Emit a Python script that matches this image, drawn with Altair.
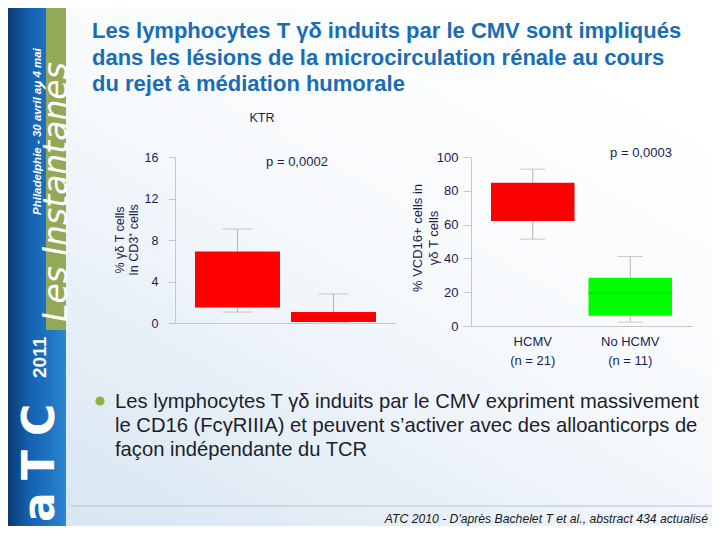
import json
import altair as alt
import pandas as pd

# ---------------- data / text ----------------
TITLE_LINES = [
    "Les lymphocytes T γδ  induits par le CMV sont impliqués",
    "dans les lésions de la microcirculation rénale au cours",
    "du rejet à médiation humorale",
]
BULLET_LINES = [
    "Les lymphocytes T γδ induits par le CMV expriment massivement",
    "le CD16 (FcγRIIIA) et peuvent s’activer avec des alloanticorps de",
    "façon indépendante du TCR",
]
FOOTER = "ATC 2010 - D'après Bachelet T et al., abstract 434 actualisé"
BANNER_DATES = "Philadelphie - 30 avril au 4 mai"
BANNER_NAME = "Les Instantanés"
LOGO_LETTERS = ["a", "T", "C"]
LOGO_YEAR = "2011"

GROUPS = ["HCMV", "No HCMV"]
GROUP_N = ["(n = 21)", "(n = 11)"]

LEFT_LABEL = "KTR"
LEFT_P = "p = 0,0002"
LEFT_YTITLE = ["% γδ T cells", "In CD3⁺ cells"]
LEFT_TICKS = [0, 4, 8, 12, 16]
LEFT_LOW = [1.05, 0.0]
LEFT_Q1 = [1.5, 0.1]
LEFT_MED = [3.2, 0.4]
LEFT_Q3 = [6.9, 1.05]
LEFT_HIGH = [9.05, 2.8]

RIGHT_P = "p = 0,0003"
RIGHT_YTITLE = ["% VCD16+ cells in", "γδ T cells"]
RIGHT_TICKS = [0, 20, 40, 60, 80, 100]
RIGHT_LOW = [51.4, 2.3]
RIGHT_Q1 = [62.1, 6.1]
RIGHT_MED = [74.5, 19.4]
RIGHT_Q3 = [84.7, 28.6]
RIGHT_HIGH = [92.8, 41.1]

W, H = 704, 518
FONT = "Liberation Sans"
NAVY = "#1c1c50"
one = pd.DataFrame({"k": [0]})


def panel(low, q1, med, q3, high, box_colors, med_colors, ydomain, yticks,
          yrange, xrange, pin, pout, cap, yaxis_x, xaxis_y, show_labels,
          label_size, tick_size, label_pad):
    df = pd.DataFrame({"group": GROUPS, "low": low, "q1": q1, "med": med,
                       "q3": q3, "high": high})
    xs = alt.Scale(domain=GROUPS, range=xrange, paddingInner=pin, paddingOuter=pout)
    ys = alt.Scale(domain=ydomain, range=yrange, nice=False, zero=False)
    box_c = alt.Color("group:N", scale=alt.Scale(domain=GROUPS, range=box_colors), legend=None)
    med_c = alt.Color("group:N", scale=alt.Scale(domain=GROUPS, range=med_colors), legend=None)

    expr = "''"
    for g, n in reversed(list(zip(GROUPS, GROUP_N))):
        expr = f"datum.value === {json.dumps(g)} ? {json.dumps([g, n])} : {expr}"

    xaxis = alt.Axis(orient="bottom", offset=-(H - xaxis_y), title=None,
                     ticks=False, labels=show_labels,
                     labelExpr=expr, labelLineHeight=19, labelPadding=9,
                     labelFontSize=13, labelColor=NAVY, labelFont=FONT,
                     labelOverlap=False, labelAngle=0, zindex=1,
                     domainColor="#c8c8c8", domainWidth=1)
    yaxis = alt.Axis(orient="left", offset=-yaxis_x, title=None, values=yticks,
                     grid=False, tickSize=tick_size, tickColor="#c8c8c8",
                     domainColor="#c8c8c8", labelPadding=label_pad, zindex=1,
                     labelFontSize=label_size, labelColor=NAVY, labelFont=FONT)

    base = alt.Chart(df)
    whisk = base.mark_rule(color="#b4b4b4", strokeWidth=1).encode(
        x=alt.X("group:N", scale=xs, axis=xaxis),
        y=alt.Y("low:Q", scale=ys, axis=yaxis), y2="high:Q")
    cap_lo = base.mark_tick(color="#b4b4b4", thickness=1, size=cap).encode(
        x=alt.X("group:N", scale=xs, axis=None), y=alt.Y("low:Q", scale=ys, axis=None))
    cap_hi = base.mark_tick(color="#b4b4b4", thickness=1, size=cap).encode(
        x=alt.X("group:N", scale=xs, axis=None), y=alt.Y("high:Q", scale=ys, axis=None))
    box = base.mark_bar(opacity=1).encode(
        x=alt.X("group:N", scale=xs, axis=None),
        y=alt.Y("q1:Q", scale=ys, axis=None), y2="q3:Q", color=box_c)
    medl = base.mark_tick(thickness=1, size=84, opacity=0.35).encode(
        x=alt.X("group:N", scale=xs, axis=None), y=alt.Y("med:Q", scale=ys, axis=None),
        color=med_c)
    return [whisk, cap_lo, cap_hi, box, medl]


left = panel(LEFT_LOW, LEFT_Q1, LEFT_MED, LEFT_Q3, LEFT_HIGH,
             ["#ff0000", "#ff0000"], ["#a00000", "#a00000"], [0, 16], LEFT_TICKS,
             [315, 149], [167, 388], 0.1146, 0.208, 30, 167, 315, False, 12.5, 7, 10)
right = panel(RIGHT_LOW, RIGHT_Q1, RIGHT_MED, RIGHT_Q3, RIGHT_HIGH,
              ["#ff0000", "#00ff00"], ["#a00000", "#008000"], [0, 100], RIGHT_TICKS,
              [318, 149], [463, 684], 0.1436, 0.205, 25, 463, 318, True, 13, 8, 5)

# ---------------- decoration ----------------
bg = alt.Chart(one).mark_rect(color=alt.Gradient(
    gradient="linear",
    stops=[alt.GradientStop(color="#ffffff", offset=0),
           alt.GradientStop(color="#f6f9fc", offset=0.45),
           alt.GradientStop(color="#d9e7f3", offset=1)],
    x1=0.85, y1=0.1, x2=0.15, y2=1)).encode(
    x=alt.value(0), x2=alt.value(W), y=alt.value(0), y2=alt.value(H))

banner = alt.Chart(one).mark_rect(color=alt.Gradient(
    gradient="linear",
    stops=[alt.GradientStop(color="#0a3a72", offset=0),
           alt.GradientStop(color="#1460ae", offset=0.35),
           alt.GradientStop(color="#1f74c2", offset=0.7),
           alt.GradientStop(color="#2c86d2", offset=1)],
    x1=0, y1=0, x2=1, y2=0)).encode(
    x=alt.value(0), x2=alt.value(58), y=alt.value(0), y2=alt.value(H))

green = alt.Chart(one).mark_rect(color="#93a957").encode(
    x=alt.value(38), x2=alt.value(58), y=alt.value(0), y2=alt.value(322))


def txt(text, x, y, **kw):
    return alt.Chart(one).mark_text(**kw).encode(
        x=alt.value(x), y=alt.value(y), text=alt.value(text))


dates = txt(BANNER_DATES, 30, 207, angle=270, align="left", baseline="middle",
            font=FONT, fontSize=11.5, fontWeight="bold", fontStyle="italic", color="white")
name = txt(BANNER_NAME, 59, 314, angle=270, align="left", baseline="alphabetic",
           font="DejaVu Sans", fontSize=33, fontStyle="italic", fontWeight=300, color="white")
year = txt(LOGO_YEAR, 38, 370, angle=270, align="left", baseline="alphabetic",
           font=FONT, fontSize=19, fontWeight="bold", color="white")
logo_a = txt(LOGO_LETTERS[0], 46, 514, angle=270, align="left", baseline="alphabetic",
             font="DejaVu Sans", fontSize=44, fontWeight="bold", color="white")
logo_t = txt(LOGO_LETTERS[1], 46, 472, angle=270, align="left", baseline="alphabetic",
             font="DejaVu Sans", fontSize=44, fontWeight="bold", color="white")
logo_c = txt(LOGO_LETTERS[2], 46, 428, angle=270, align="left", baseline="alphabetic",
             font="DejaVu Sans", fontSize=44, fontWeight="bold", color="white")

title = txt(TITLE_LINES, 84, 30, align="left", baseline="alphabetic", font=FONT,
            fontSize=22, fontWeight="bold", color="#1a6db3", lineHeight=26.5)
ktr = txt(LEFT_LABEL, 254, 110, align="center", baseline="middle", font=FONT,
          fontSize=12.5, color=NAVY)
p_left = txt(LEFT_P, 289, 154, align="center", baseline="middle", font=FONT,
             fontSize=13, color=NAVY)
p_right = txt(RIGHT_P, 633, 145, align="center", baseline="middle", font=FONT,
              fontSize=13, color=NAVY)
yt_left = txt(LEFT_YTITLE, 112, 232, angle=270, align="center", baseline="middle",
              font=FONT, fontSize=12.5, color=NAVY, lineHeight=14)
yt_right = txt(RIGHT_YTITLE, 410, 230, angle=270, align="center", baseline="middle",
               font=FONT, fontSize=13, color=NAVY, lineHeight=16)

dot = alt.Chart(one).mark_circle(color="#8db63c", opacity=1, size=85).encode(
    x=alt.value(92), y=alt.value(393))
bullet = txt(BULLET_LINES, 107, 400, align="left", baseline="alphabetic", font=FONT,
             fontSize=20.2, color="#1e1e2a", lineHeight=24)
sep = alt.Chart(one).mark_rule(color="#b9c3cb", strokeWidth=1).encode(
    x=alt.value(62), x2=alt.value(W), y=alt.value(498))
footer = txt(FOOTER, 700, 515, align="right", baseline="alphabetic", font=FONT,
             fontSize=12.2, fontStyle="italic", color="#1a1a1a")

chart = alt.layer(
    bg, banner, green, dates, name, year, logo_a, logo_t, logo_c,
    title, ktr, p_left, p_right, yt_left, yt_right,
    *left, *right, dot, bullet, sep, footer,
).resolve_scale(x="independent", y="independent", color="independent").properties(
    width=W, height=H, autosize=alt.AutoSizeParams(type="none"), padding=0,
    background="white",
).configure_view(stroke=None)

chart.save("out.html", embed_options={"renderer": "svg", "actions": False})
